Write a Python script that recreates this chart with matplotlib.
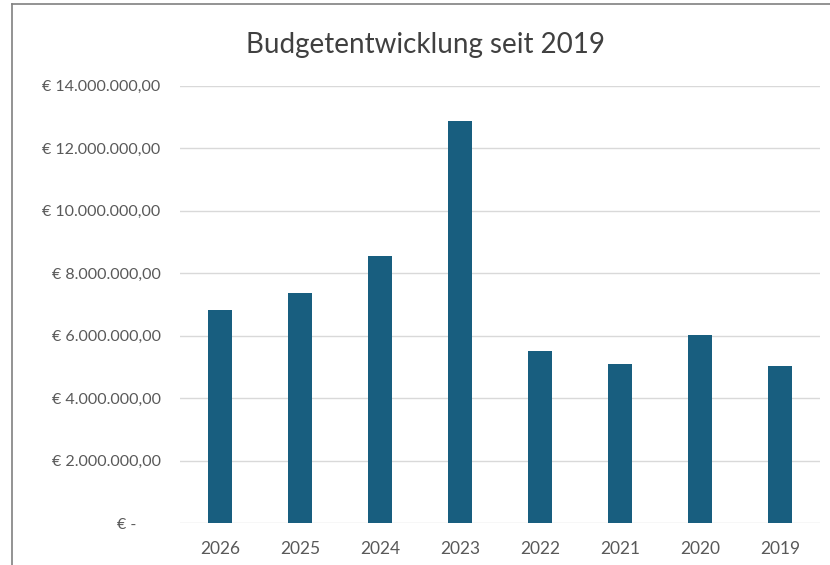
import matplotlib.pyplot as plt
from matplotlib.lines import Line2D

jahre = ["2026", "2025", "2024", "2023", "2022", "2021", "2020", "2019"]
budget = [6830000, 7370000, 8560000, 12880000, 5510000, 5100000, 6030000, 5030000]
y_ticks = [0, 2000000, 4000000, 6000000, 8000000, 10000000, 12000000, 14000000]


def euro(v):
    if v == 0:
        return "€ -      "
    s = f"{v:,.2f}".replace(",", "X").replace(".", ",").replace("X", ".")
    return "€ " + s


plt.rcParams["font.family"] = ["Lato", "DejaVu Sans"]

fig = plt.figure(figsize=(8.3, 5.65), dpi=100)
ax = fig.add_axes([0.217, 0.0743, 0.771, 0.7737])

ax.bar(range(len(jahre)), budget, width=0.3, color="#185E7F", zorder=3)

ax.set_xlim(-0.5, len(jahre) - 0.5)
ax.set_ylim(0, 14000000)
ax.set_xticks(range(len(jahre)))
ax.set_xticklabels(jahre, fontsize=12.5, color="#595959")
ax.set_yticks(y_ticks)
ax.set_yticklabels([euro(v) for v in y_ticks], fontsize=11.5, color="#595959")
ax.tick_params(axis="both", length=0)
ax.tick_params(axis="y", pad=14)
ax.tick_params(axis="x", pad=13)
ax.grid(axis="y", color="#D9D9D9", linewidth=1, zorder=0)
for s in ax.spines.values():
    s.set_visible(False)

fig.text(0.513, 0.921, "Budgetentwicklung seit 2019", ha="center", va="center",
         fontsize=20, color="#404040")

# Rahmen links und oben
fig.add_artist(Line2D([0.0145, 0.0145], [0.0, 0.993], color="#808080", linewidth=1.2))
fig.add_artist(Line2D([0.0145, 1.0], [0.993, 0.993], color="#808080", linewidth=1.2))

fig.savefig("out.png", dpi=100)
